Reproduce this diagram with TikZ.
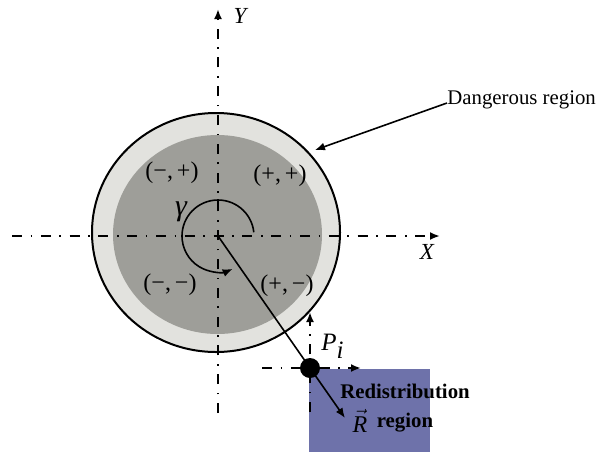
\documentclass[tikz,border=0pt]{standalone}
\usepackage{fontspec}
\setmainfont{Liberation Serif}
\usetikzlibrary{arrows.meta}
\definecolor{ringgray}{RGB}{226,226,222}
\definecolor{diskgray}{RGB}{158,158,153}
\definecolor{boxblue}{RGB}{110,114,170}
\begin{document}
\begin{tikzpicture}[x=0.5pt,y=0.5pt,
  axisline/.style={line width=1pt, dash pattern=on 5pt off 4.3pt on 0.8pt off 4.3pt},
  tipped/.style={-{Latex[length=5pt,width=4pt]}},
  thinline/.style={line width=0.8pt},
  quad/.style={inner sep=0pt, font=\fontsize{12}{14}\selectfont},
  plain/.style={inner sep=0pt, font=\fontsize{10.4}{12}\selectfont},
  boldtxt/.style={inner sep=0pt, font=\fontsize{10.4}{12}\selectfont\bfseries},
  axlabel/.style={inner sep=0pt, font=\fontsize{11.5}{13}\selectfont\itshape}]
\useasboundingbox[fill=white] (0,0) rectangle (600,452);
% regions
\filldraw[fill=ringgray, draw=black, line width=1pt] (216,219.5) ellipse [x radius=124, y radius=119.5];
\fill[diskgray] (217.5,217.5) ellipse [x radius=104.5, y radius=99.5];
% coordinates
\coordinate (O) at (218,216);
\coordinate (xs) at (12,216);
\coordinate (xe) at (440,216);
\coordinate (ys) at (218,39);
\coordinate (ye) at (218,443);
\coordinate (Pc) at (310,84);
\coordinate (Rtip) at (345,34);
\coordinate (lhs) at (262,84);
\coordinate (lhe) at (361,84);
\coordinate (lvs) at (310,40);
\coordinate (lve) at (310,140);
\coordinate (dtip) at (315,302);
% main axes
\draw[axisline, tipped] (xs) -- (xe);
\draw[axisline, tipped] (ys) -- (ye);
\node[axlabel] (Xl) at (427,200) {X};
\node[axlabel] (Yl) at (240,436) {Y};
% gamma arc
\draw[thinline, tipped] ([shift={(6:36)}]O) arc[start angle=6, end angle=294, radius=36];
\node[inner sep=0pt, font=\fontsize{15}{17}\selectfont\itshape] (gam) at (181,240) {γ};
% quadrant labels
\node[quad] (q1) at (172,279) {(−,\,+)};
\node[quad] (q2) at (280,276) {(+,\,+)};
\node[quad] (q3) at (170,167) {(−,\,−)};
\node[quad] (q4) at (287,166) {(+,\,−)};
% dangerous region
\node[plain, anchor=west] (dang) at (447,352) {Dangerous region};
\draw[thinline, tipped] ([yshift=-1.5pt]dang.west) -- (dtip);
% redistribution box
\fill[boxblue] (309,0) rectangle (430,83);
\node[boldtxt] (redis) at (405,61) {Redistribution};
\node[boldtxt] (regtxt) at (405,29) {region};
\node[inner sep=0pt, font=\fontsize{12}{14}\selectfont] (Rvec) at (360,31) {$\vec{\textit{R}}$};
% radius line
\draw[thinline] (O) -- (Pc);
\draw[thinline, tipped] (Pc) -- (Rtip);
% local axes
\draw[axisline, tipped] (lhs) -- (lhe);
\draw[axisline, tipped] (lvs) -- (lve);
\node[circle, fill=black, minimum size=10pt, inner sep=0pt] (P) at (Pc) {};
\node[inner sep=0pt, font=\fontsize{12.5}{14}\selectfont, anchor=west] (Pl) at (321,106) {$\textit{P}_{\textit{i}}$};
\end{tikzpicture}
\end{document}
